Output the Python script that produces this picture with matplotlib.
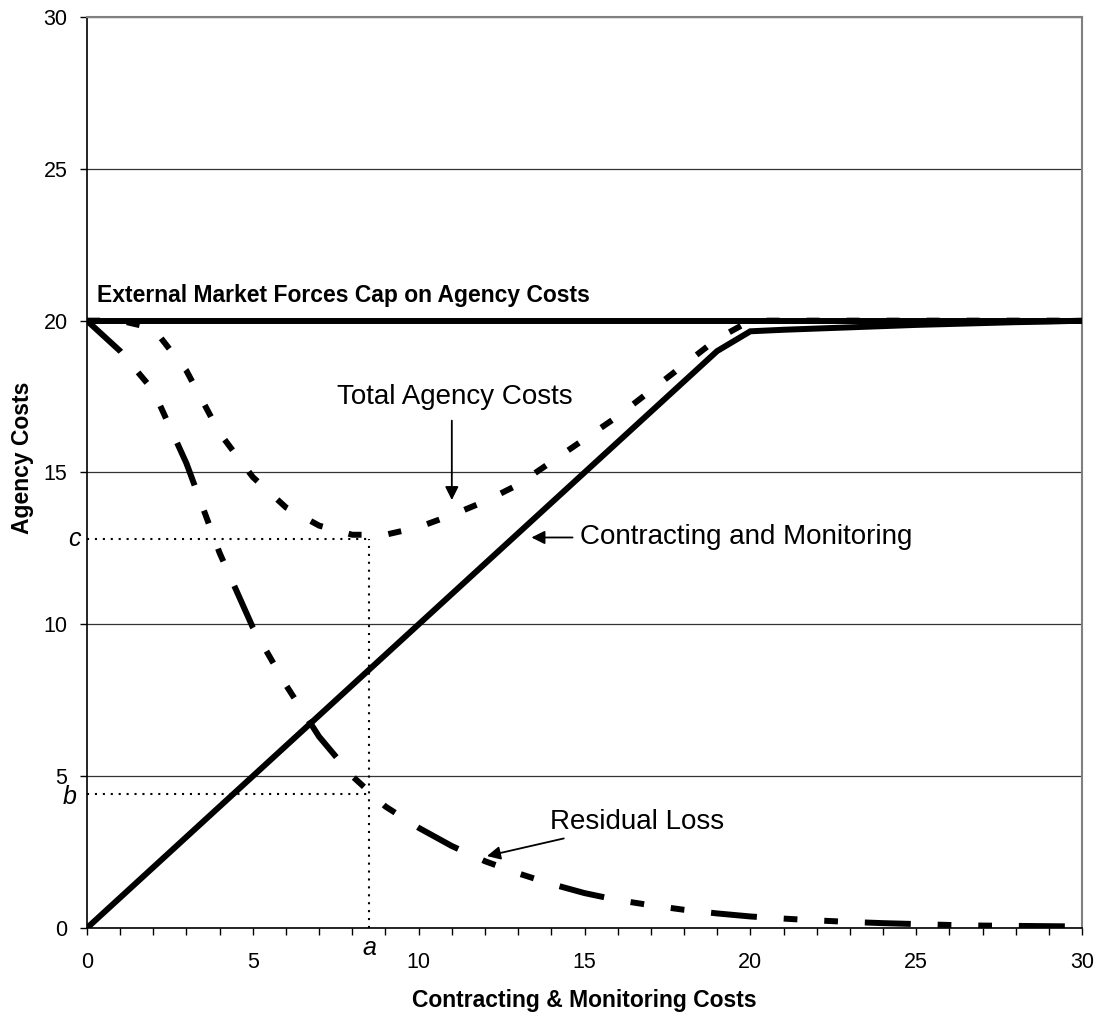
import matplotlib
matplotlib.use("Agg")
import matplotlib.pyplot as plt

plt.rcParams['font.family'] = ['Liberation Sans', 'DejaVu Sans']

# x positions (contracting & monitoring spend)
x_vals = list(range(0, 31))

# contracting and monitoring costs
contracting = [0, 1, 2, 3, 4, 5, 6, 7, 8, 9, 10, 11, 12, 13, 14, 15, 16, 17, 18, 19,
               19.65, 19.7, 19.74, 19.78, 19.82, 19.86, 19.89, 19.92, 19.95, 19.97, 20.0]

# residual loss
residual = [20, 19.0, 17.7, 15.3, 12.35, 9.9, 8.0, 6.3, 5.0, 4.0, 3.3, 2.7, 2.2, 1.8,
            1.45, 1.15, 0.92, 0.75, 0.6, 0.48, 0.38, 0.31, 0.25, 0.2, 0.16, 0.13,
            0.1, 0.08, 0.07, 0.06, 0.05]

# total agency costs (capped at 20)
total = [20, 20, 19.75, 18.35, 16.3, 14.85, 13.85, 13.25, 12.95, 12.95, 13.2, 13.6,
         14.05, 14.6, 15.35, 16.1, 16.85, 17.7, 18.55, 19.4, 20, 20, 20, 20, 20, 20,
         20, 20, 20, 20, 20]

cap_x = [0, 30]
cap_y = [20, 20]

a_val = 8.5   # optimal spend
b_val = 4.4   # residual loss at a
c_val = 12.8  # total agency costs at a

fig = plt.figure(figsize=(11.02, 10.17), dpi=100)
ax = fig.add_axes([0.0789, 0.0875, 0.903, 0.8958])

lw = 4.3
ax.plot(x_vals, residual, color='black', lw=lw, solid_capstyle='butt', dash_capstyle='butt',
        linestyle=(0, (7.7, 4.5, 2.3, 4.5, 2.3, 4.5)), zorder=3)
ax.plot(x_vals, contracting, color='black', lw=lw, solid_joinstyle='miter', zorder=3)
ax.plot(x_vals, total, color='black', lw=lw, dash_capstyle='butt',
        linestyle=(0, (2.2, 4.5)), zorder=3)
ax.plot(cap_x, cap_y, color='black', lw=lw, solid_capstyle='butt', zorder=4)

# dotted guide lines
dot = (0, (1, 2.8))
ax.plot([0, a_val], [c_val, c_val], color='black', lw=1.5, linestyle=dot, zorder=2)
ax.plot([a_val, a_val], [0, c_val], color='black', lw=1.5, linestyle=dot, zorder=2)
ax.plot([0, a_val], [b_val, b_val], color='black', lw=1.5, linestyle=dot, zorder=2)

ax.set_xlim(0, 30)
ax.set_ylim(0, 30)
ax.set_xticks(range(0, 31, 5))
ax.set_xticks(range(0, 31), minor=True)
ax.set_yticks(range(0, 31, 5))
ax.tick_params(axis='both', which='both', direction='out', length=5, width=1, labelsize=15.5)
ax.tick_params(axis='x', which='major', pad=12)
ax.tick_params(axis='y', which='major', pad=9)

ax.yaxis.grid(True, color='#333333', lw=0.9)
ax.set_axisbelow(True)
for s in ['top', 'right']:
    ax.spines[s].set_color('#808080')
    ax.spines[s].set_linewidth(1.5)
for s in ['left', 'bottom']:
    ax.spines[s].set_color('black')
    ax.spines[s].set_linewidth(1.2)

ax.set_xlabel('Contracting & Monitoring Costs', fontsize=16.5, fontweight='bold', labelpad=12)
ax.set_ylabel('Agency Costs', fontsize=16.5, fontweight='bold')
ax.yaxis.set_label_coords(-0.053, 0.516)

# annotations
ax.text(0.3, 20.45, 'External Market Forces Cap on Agency Costs', fontsize=16.5,
        fontweight='bold', ha='left', va='bottom')
ax.text(11.1, 17.5, 'Total Agency Costs', fontsize=20, ha='center', va='center')
ax.annotate('', xy=(11.0, 14.0), xytext=(11.0, 16.8),
            arrowprops=dict(arrowstyle='-|>', color='black', lw=1.3, mutation_scale=20))
ax.annotate('Contracting and Monitoring', xy=(13.4, 12.86), xytext=(14.85, 12.86),
            fontsize=20, ha='left', va='center',
            arrowprops=dict(arrowstyle='-|>', color='black', lw=1.3, mutation_scale=20,
                            shrinkA=3, shrinkB=0))
ax.annotate('Residual Loss', xy=(12.06, 2.37), xytext=(13.95, 3.5),
            fontsize=20, ha='left', va='center',
            arrowprops=dict(arrowstyle='-|>', color='black', lw=1.3, mutation_scale=20,
                            shrinkA=3, shrinkB=0))

ytr = ax.get_yaxis_transform()
xtr = ax.get_xaxis_transform()
ax.text(-0.006, c_val, 'c', transform=ytr, fontsize=18, style='italic', ha='right', va='center')
ax.text(-0.01, b_val - 0.1, 'b', transform=ytr, fontsize=18, style='italic', ha='right', va='center')
ax.text(a_val, -0.022, 'a', transform=xtr, fontsize=18, style='italic', ha='center', va='center')

plt.savefig('out.png', dpi=100)
